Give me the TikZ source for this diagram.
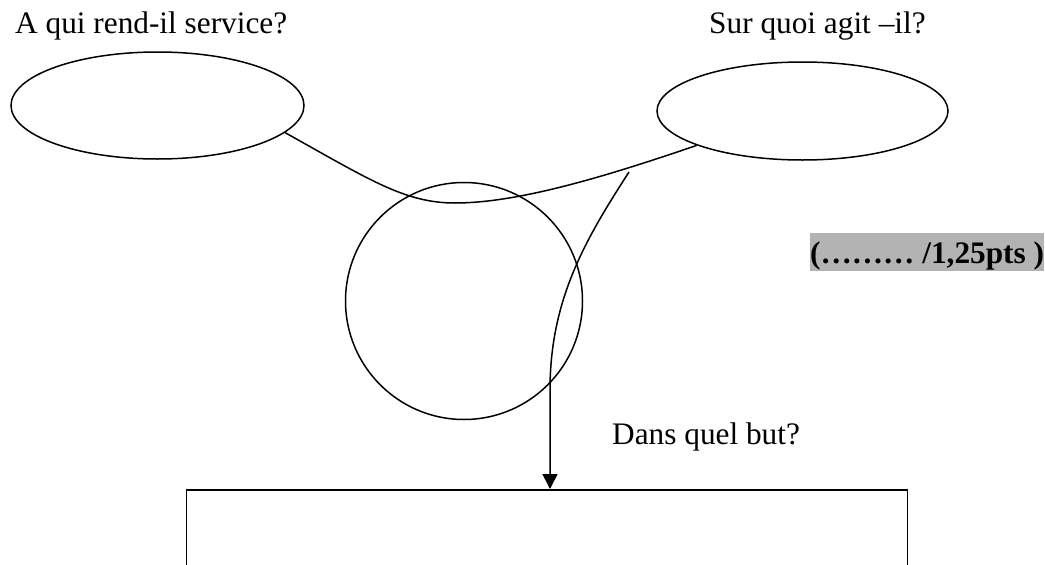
\documentclass[tikz,border=0pt]{standalone}
\usepackage{fontspec}
\setmainfont{Liberation Serif}
\usetikzlibrary{arrows.meta,shapes.geometric}
\definecolor{labelgray}{HTML}{B3B3B3}
\tikzset{
  lbl/.style={anchor=base west,inner sep=0pt,font=\fontsize{31.3}{37}\selectfont},
  oval/.style={draw,ellipse,line width=1.5pt,inner sep=0pt},
  conn/.style={line width=1.5pt},
}
\begin{document}
\begin{tikzpicture}[x=1pt,y=-1pt]
\useasboundingbox (0,0) rectangle (1045,565);
\clip (0,0) rectangle (1045,565);
% texts
\node[lbl] (t1) at (15,33) {A qui rend-il service?};
\node[lbl] (t2) at (709,33) {Sur quoi agit –il?};
\node[lbl] (t3) at (612,444) {Dans quel but?};
\node[lbl,fill=labelgray,font=\fontsize{31.3}{37}\selectfont\bfseries,text height=30pt,text depth=8pt] (pts) at (810,263) {(……… /1,25pts )};
% shapes
\node[oval,minimum width=293pt,minimum height=107pt] (L) at (157.5,105.5) {};
\node[oval,minimum width=291pt,minimum height=98pt] (R) at (802.5,111) {};
\node[draw,circle,line width=1.5pt,minimum size=237pt,inner sep=0pt] (C) at (464,301) {};
\node[draw,rectangle,line width=1.5pt,minimum width=721pt,minimum height=160pt,inner sep=0pt,anchor=north west] (B) at (185.5,489) {};
% connectors
\coordinate (m) at (455,203);
\draw[conn] (L.-12) .. controls (370,180) and (405,203) .. (m)
  .. controls (520,203) and (610,175) .. (R.198);
\coordinate (s) at (629,172);
\coordinate (k) at (550,390);
\draw[conn,-{Triangle[width=15pt,length=15pt]}] (s) .. controls (585,240) and (550,300) .. (k) -- (k |- B.north);
\end{tikzpicture}
\end{document}
